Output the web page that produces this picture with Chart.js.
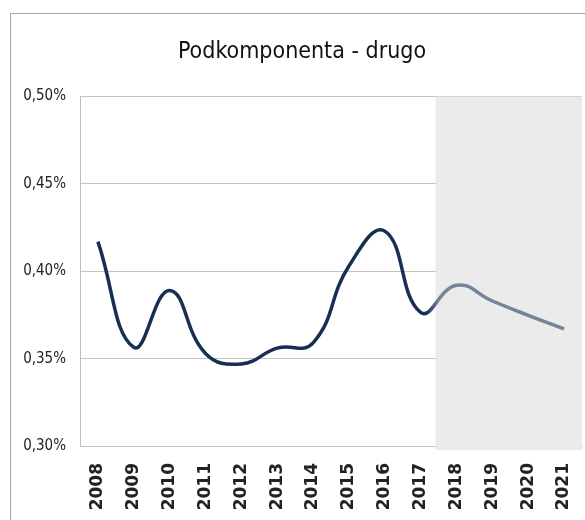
<!DOCTYPE html>
<html>
<head>
<meta charset="utf-8">
<script src="https://cdn.jsdelivr.net/npm/chart.js@4/dist/chart.umd.min.js"></script>
<style>
  body { margin: 0; background: #fff; }
  #wrap { position: relative; width: 585px; height: 520px; overflow: hidden; }
  #frame { position: absolute; left: 10px; top: 13px; width: 600px; height: 600px; border: 1px solid #a6a6a6; }
  canvas { position: absolute; left: 0; top: 0; }
</style>
</head>
<body>
<div id="wrap">
  <div id="frame"></div>
  <canvas id="myChart" width="585" height="520"></canvas>
</div>
<script>
var years = ['2008', '2009', '2010', '2011', '2012', '2013', '2014',
             '2015', '2016', '2017', '2018', '2019', '2020', '2021'];
var values = [0.417, 0.3565, 0.389, 0.353, 0.347, 0.356, 0.359,
              0.403, 0.423, 0.3765, 0.392, 0.383, 0.3748, 0.367];
var yTicks = [0.30, 0.35, 0.40, 0.45, 0.50];
var forecastFrom = 10; // index of 2018

var navy = '#182f54';
var light = '#74849a';

// grey band behind forecast years
var forecastBand = {
  id: 'forecastBand',
  afterLayout: function(chart) {
    // title sits a little right of the canvas centre in the original
    chart.titleBlock.left += 22;
  },
  beforeDatasetsDraw: function(chart) {
    var x = chart.scales.x, area = chart.chartArea, c = chart.ctx;
    var start = (x.getPixelForValue(forecastFrom - 1) + x.getPixelForValue(forecastFrom)) / 2 - 3;
    c.save();
    c.fillStyle = '#ebebeb';
    c.fillRect(start, area.top, area.right - start, area.bottom - area.top + 4);
    c.restore();
  }
};

function lineColor(ctx) {
  var chart = ctx.chart, area = chart.chartArea;
  if (!area) return navy;
  var x = chart.scales.x;
  var w = area.right - area.left;
  var a = (x.getPixelForValue(forecastFrom - 1) + 6 - area.left) / w;
  var b = (x.getPixelForValue(forecastFrom) - 18 - area.left) / w;
  var g = chart.ctx.createLinearGradient(area.left, 0, area.right, 0);
  g.addColorStop(0, navy);
  g.addColorStop(a, navy);
  g.addColorStop(b, light);
  g.addColorStop(1, light);
  return g;
}

var ctx = document.getElementById('myChart');
new Chart(ctx, {
  type: 'line',
  data: {
    labels: years,
    datasets: [{
      data: values,
      borderColor: lineColor,
      borderWidth: 3.5,
      tension: 0.45,
      pointRadius: 0,
      fill: false
    }]
  },
  plugins: [forecastBand],
  options: {
    responsive: false,
    animation: false,
    layout: { padding: { left: 0, right: 3, top: 0, bottom: 0 } },
    plugins: {
      legend: { display: false },
      tooltip: { enabled: false },
      title: {
        display: true,
        text: 'Podkomponenta - drugo',
        color: '#111',
        font: { family: 'DejaVu Sans Condensed, DejaVu Sans', size: 23, weight: 'normal' },
        padding: { top: 38, bottom: 31 }
      }
    },
    scales: {
      x: {
        offset: true,
        grid: { display: false, drawTicks: false },
        border: { display: true, color: '#bfbfbf' },
        ticks: {
          color: '#222',
          maxRotation: 90,
          minRotation: 90,
          padding: 17,
          font: { family: 'DejaVu Sans', size: 17, weight: 'bold' }
        },
        afterFit: function(scale) {
          scale.height = 74;
          scale.paddingLeft = 0;
          scale.paddingRight = 0;
        }
      },
      y: {
        min: 0.30,
        max: 0.50,
        afterBuildTicks: function(scale) {
          scale.ticks = yTicks.map(function(v) { return { value: v }; });
        },
        grid: { color: '#c4c4c4', lineWidth: 1, drawTicks: false },
        border: { display: true, color: '#bfbfbf' },
        ticks: {
          color: '#222',
          padding: 14,
          font: { family: 'DejaVu Sans Condensed, DejaVu Sans', size: 15 },
          callback: function(v) { return v.toFixed(2).replace('.', ',') + '%'; }
        },
        afterFit: function(scale) { scale.width = 80; }
      }
    }
  }
});
</script>
</body>
</html>
